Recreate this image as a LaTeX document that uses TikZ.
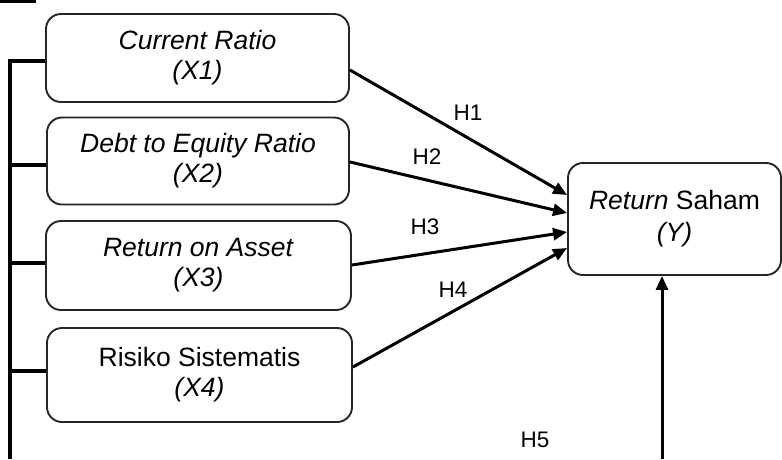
\documentclass[tikz,border=0pt]{standalone}
\usepackage{fontspec}
\setmainfont{Liberation Sans}
\usetikzlibrary{calc,arrows.meta}
\tikzset{
  varbox/.style={draw=black!85, line width=1.9pt, rounded corners=15pt, inner sep=0pt,
    align=center, font=\fontsize{26.5}{30}\selectfont},
  link/.style={line width=3pt, -{Triangle[length=14pt,width=12pt]}},
  bus/.style={line width=3.3pt},
  hlabel/.style={font=\fontsize{22.5}{26}\selectfont, inner sep=0pt}
}
\begin{document}
\begin{tikzpicture}[x=1pt,y=-1pt]
\useasboundingbox (0,0) rectangle (782,459);
\fill[black] (0,0) rectangle (36,2.5);
\node[varbox, minimum width=303pt, minimum height=88pt] (b1) at (197.5,58) {\textit{Current Ratio}\\\textit{(X1)}};
\node[varbox, minimum width=302pt, minimum height=87pt] (b2) at (198,161) {\textit{Debt to Equity Ratio}\\\textit{(X2)}};
\node[varbox, minimum width=305pt, minimum height=89pt] (b3) at (198.5,265.5) {\textit{Return on Asset}\\\textit{(X3)}};
\node[varbox, minimum width=305pt, minimum height=94pt] (b4) at (199.5,375) {Risiko Sistematis\\\textit{(X4)}};
\node[varbox, minimum width=213pt, minimum height=112pt, font=\fontsize{26.5}{32}\selectfont] (y) at (674.5,219) {\textit{Return} Saham\\\textit{(Y)}};
% left bus
\coordinate (busbot) at (10,459);
\coordinate (ybot) at (662,459);
\draw[bus] ($(b1.west)+(0,3)$) -- (10,61) -- (busbot);
\draw[bus] ($(b2.west)+(0,4)$) -- (10,165);
\draw[bus] ($(b3.west)+(0,-2.5)$) -- (10,263);
\draw[bus] ($(b4.west)+(0,-4)$) -- (10,371);
% arrows
\draw[link] ($(b1.east)+(0,12)$) -- ($(y.west)+(0,-24)$);
\draw[link] ($(b2.east)+(0,1)$) -- ($(y.west)+(0,-6)$);
\draw[link] ($(b3.east)+(0,-0.5)$) -- ($(y.west)+(0,13)$);
\draw[link] ($(b4.east)+(0,-8)$) -- ($(y.west)+(0,29)$);
\draw[link] (ybot) -- (ybot |- y.south);
% labels
\node[hlabel] (h1) at (468,113) {H1};
\node[hlabel] (h2) at (427,157) {H2};
\node[hlabel] (h3) at (425,227) {H3};
\node[hlabel] (h4) at (453,290) {H4};
\node[hlabel] (h5) at (535,440) {H5};
\end{tikzpicture}
\end{document}
